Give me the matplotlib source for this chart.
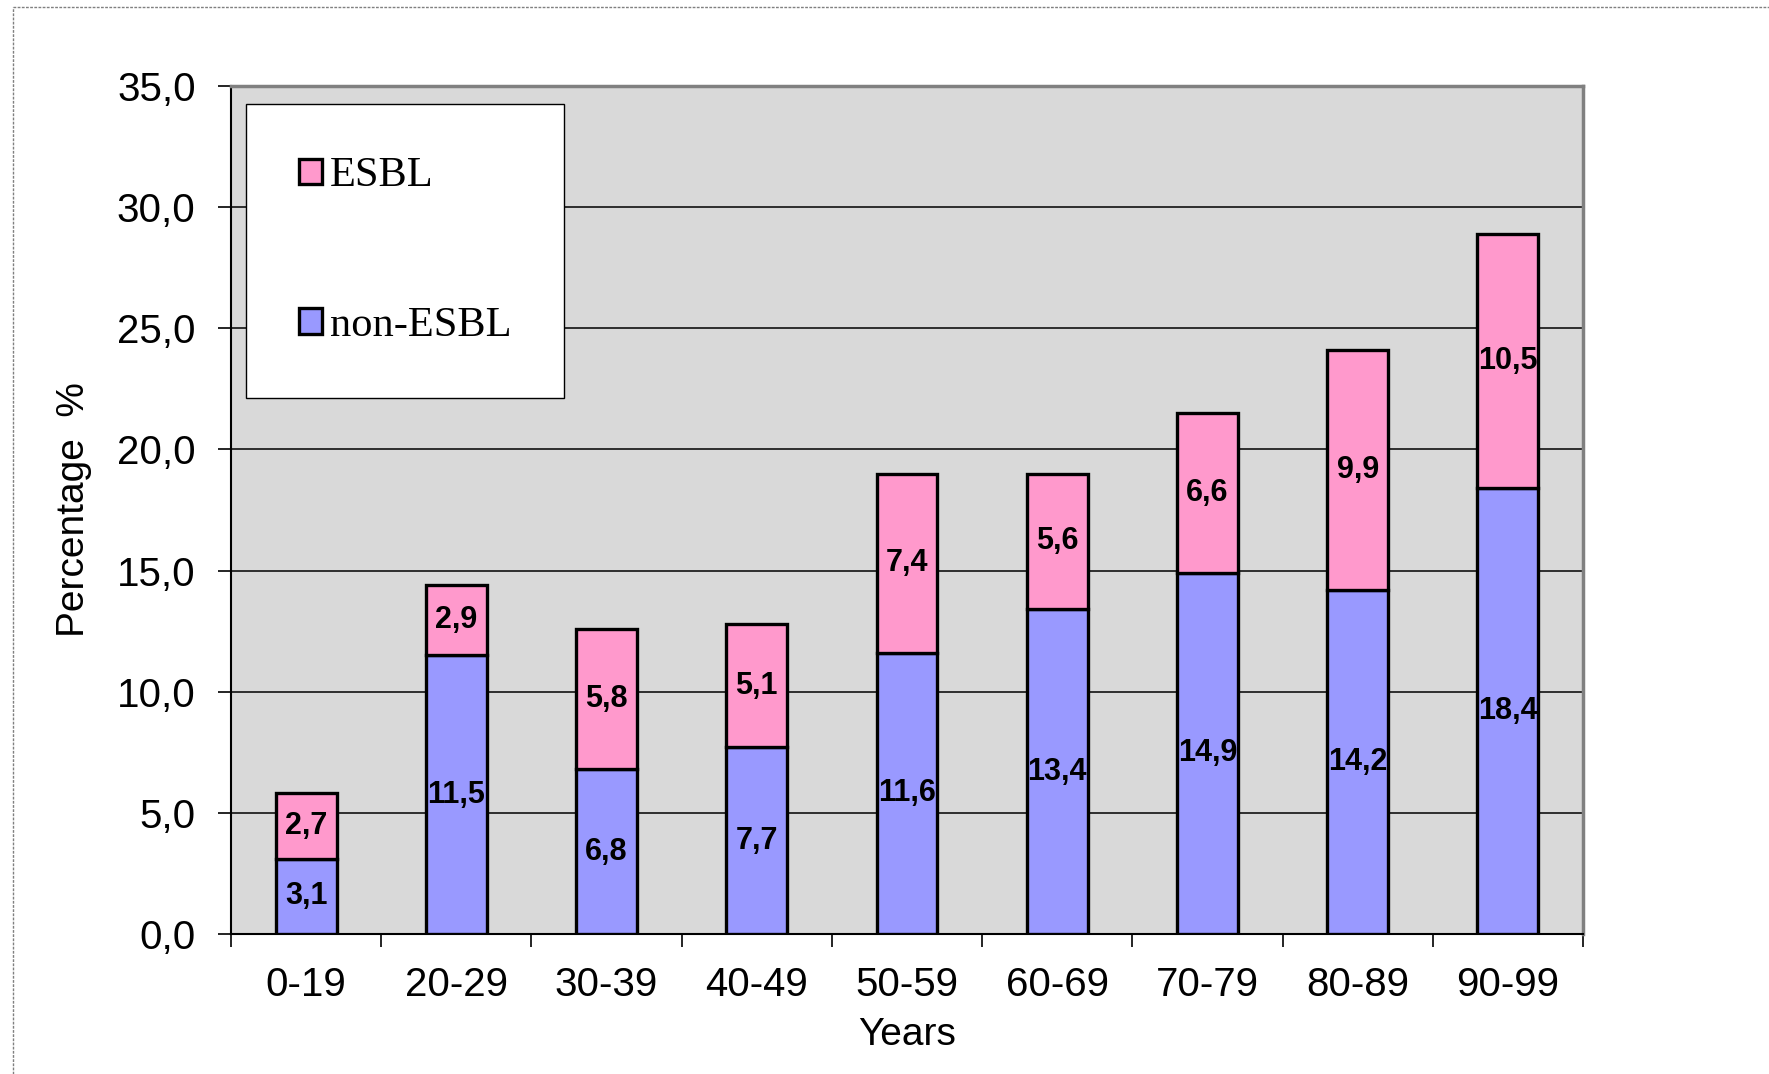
import matplotlib
matplotlib.use("Agg")
import matplotlib.pyplot as plt
from matplotlib.patches import Patch
from matplotlib.lines import Line2D

categories = ["0-19", "20-29", "30-39", "40-49", "50-59", "60-69", "70-79", "80-89", "90-99"]
non_esbl = [3.1, 11.5, 6.8, 7.7, 11.6, 13.4, 14.9, 14.2, 18.4]
esbl = [2.7, 2.9, 5.8, 5.1, 7.4, 5.6, 6.6, 9.9, 10.5]
yticks = [0, 5, 10, 15, 20, 25, 30, 35]

PINK = "#FF99CC"
BLUE = "#9999FF"
SANS = "Liberation Sans"
SERIF = "Liberation Serif"

W, H = 1769, 1074
fig = plt.figure(figsize=(W / 100, H / 100), dpi=100)
fig.patch.set_facecolor("white")

# outer chart-area border (dotted)
fig.add_artist(Line2D([13 / W, 1.0], [1 - 7 / H, 1 - 7 / H], transform=fig.transFigure,
                      color="#808080", lw=1.0, ls=(0, (2, 1))))
fig.add_artist(Line2D([13 / W, 13 / W], [0.0, 1 - 7 / H], transform=fig.transFigure,
                      color="#808080", lw=1.0, ls=(0, (2, 1))))

left, right, top, bottom = 231, 1583, 86, 934
ax = fig.add_axes([left / W, 1 - bottom / H, (right - left) / W, (bottom - top) / H])
ax.set_facecolor("#D9D9D9")

x = list(range(len(categories)))
bw = 0.405
ax.bar(x, non_esbl, width=bw, color=BLUE, edgecolor="black", linewidth=2.4, zorder=3)
ax.bar(x, esbl, width=bw, bottom=non_esbl, color=PINK, edgecolor="black", linewidth=2.4, zorder=3)

def fmt(v):
    return f"{v:.1f}".replace(".", ",")

for i in x:
    ax.text(i, non_esbl[i] / 2, fmt(non_esbl[i]), ha="center", va="center",
            fontsize=22, fontweight="bold", family=SANS, zorder=4)
    ax.text(i, non_esbl[i] + esbl[i] / 2, fmt(esbl[i]), ha="center", va="center",
            fontsize=22, fontweight="bold", family=SANS, zorder=4)

ax.set_xlim(-0.5, len(categories) - 0.5)
ax.set_ylim(0, 35)

ax.set_yticks(yticks)
ax.set_yticklabels([fmt(v) for v in yticks], family=SANS, fontsize=29)
ax.tick_params(axis="y", direction="out", length=9.5, width=1.2, pad=16, color="black")

ax.set_xticks(x)
ax.set_xticklabels(categories, family=SANS, fontsize=29)
ax.tick_params(axis="x", which="major", length=0, pad=23)
ax.set_xticks([i - 0.5 for i in range(len(categories) + 1)], minor=True)
ax.tick_params(axis="x", which="minor", direction="out", length=9.5, width=1.2, color="black")

ax.yaxis.grid(True, color="black", lw=1.1, zorder=1)
ax.set_axisbelow(True)

for s in ["top", "right"]:
    ax.spines[s].set_color("#808080")
    ax.spines[s].set_linewidth(2.5)
for s in ["left", "bottom"]:
    ax.spines[s].set_color("black")
    ax.spines[s].set_linewidth(1.5)

ax.set_xlabel("Years", family=SANS, fontsize=28)
ax.xaxis.set_label_coords(0.5, -0.119)
ax.xaxis.label.set_va("center")
ax.set_ylabel("Percentage  %", family=SANS, fontsize=28)
ax.yaxis.set_label_coords(-0.116, 0.5)
ax.yaxis.label.set_va("center")

handles = [Patch(facecolor=PINK, edgecolor="black", linewidth=2.4, label="ESBL"),
           Patch(facecolor=BLUE, edgecolor="black", linewidth=2.4, label="non-ESBL")]
leg = ax.legend(handles=handles, loc="upper left", bbox_to_anchor=(0.011, 0.979),
                bbox_transform=ax.transAxes, borderaxespad=0,
                prop={"family": SERIF, "size": 30.5}, frameon=True, fancybox=False,
                edgecolor="black", facecolor="white", framealpha=1,
                handlelength=0.55, handleheight=0.55, handletextpad=0.18,
                labelspacing=2.62, borderpad=1.25)
leg.get_frame().set_linewidth(1.0)
leg.set_zorder(5)

fig.savefig("out.png", dpi=100, facecolor="white")
